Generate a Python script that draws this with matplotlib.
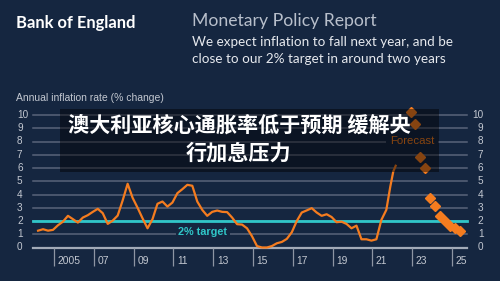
import matplotlib
matplotlib.use("Agg")
import matplotlib.pyplot as plt
from matplotlib.patches import Rectangle

# ---------------- data ----------------
cpi_years = [2004.2, 2004.45, 2004.7, 2004.95, 2005.2, 2005.45, 2005.7, 2005.95,
             2006.2, 2006.45, 2006.7, 2006.95, 2007.2, 2007.45, 2007.7, 2007.95,
             2008.2, 2008.45, 2008.7, 2008.95, 2009.2, 2009.45, 2009.7, 2009.95,
             2010.2, 2010.45, 2010.7, 2010.95, 2011.2, 2011.45, 2011.7, 2011.95,
             2012.2, 2012.45, 2012.7, 2012.95, 2013.2, 2013.45, 2013.7, 2013.95,
             2014.2, 2014.45, 2014.7, 2014.95, 2015.2, 2015.45, 2015.7, 2015.95,
             2016.2, 2016.45, 2016.7, 2016.95, 2017.2, 2017.45, 2017.7, 2017.95,
             2018.2, 2018.45, 2018.7, 2018.95, 2019.2, 2019.45, 2019.7, 2019.95,
             2020.2, 2020.45, 2020.7, 2020.95, 2021.2, 2021.45, 2021.7, 2021.9,
             2022.05, 2022.17]
cpi_values = [1.27, 1.38, 1.27, 1.33, 1.68, 1.95, 2.39, 2.14,
              1.88, 2.26, 2.44, 2.69, 2.92, 2.59, 1.78, 2.03,
              2.41, 3.55, 4.81, 3.75, 3.0, 2.2, 1.45, 2.14,
              3.3, 3.47, 3.09, 3.39, 4.1, 4.4, 4.73, 4.66,
              3.47, 2.84, 2.39, 2.69, 2.79, 2.69, 2.67, 2.26,
              1.76, 1.73, 1.45, 0.85, 0.11, 0.0, 0.0, 0.11,
              0.32, 0.42, 0.65, 1.15, 2.0, 2.64, 2.8, 2.97,
              2.64, 2.39, 2.51, 2.3, 1.91, 1.95, 1.78, 1.45,
              1.65, 0.62, 0.62, 0.52, 0.62, 2.08, 2.84, 4.6,
              5.74, 6.17]
forecast_years = [2022.92, 2023.16, 2023.41, 2023.66, 2023.9, 2024.16,
                  2024.4, 2024.65, 2024.9, 2025.16, 2025.41]
forecast_values = [10.2, 9.35, 6.8, 6.0, 3.73, 3.1, 2.41, 2.03, 1.63, 1.45, 1.25]
target = 2
y_ticks = list(range(0, 11))
x_tick_years = [2005, 2007, 2009, 2011, 2013, 2015, 2017, 2019, 2021, 2023, 2025]
x_tick_labels = ["2005", "07", "09", "11", "13", "15", "17", "19", "21", "23", "25"]

header_left = "Bank of England"
header_right = "Monetary Policy Report"
subtitle = ["We expect inflation to fall next year, and be",
            "close to our 2% target in around two years"]
axis_title = "Annual inflation rate (% change)"
overlay_title = ["澳大利亚核心通胀率低于预期 缓解央", "行加息压力"]

# ---------------- style ----------------
BG = "#152640"
ORANGE = "#f57c1f"
TEAL = "#30c6c8"
GRID = "#59647a"
TXT = "#c3c8d1"
W, H = 500, 281

fig = plt.figure(figsize=(5, 2.81), dpi=100, facecolor=BG)

def fx(px):
    return px / W

def fy(py):
    return 1 - py / H

ax_l, ax_r, ax_b, ax_t = 33, 467, 247.5, 115
ax = fig.add_axes([fx(ax_l), fy(ax_b), (ax_r - ax_l) / W, (ax_b - ax_t) / H])
ax.set_facecolor(BG)
px_per_year = 19.9
def yr(px):
    return 2005 + (px - 54) / px_per_year
ax.set_xlim(yr(ax_l), yr(ax_r))
ax.set_ylim(0, 10)
ax.axis("off")

chart_font = "Liberation Sans"

for v in y_ticks:
    if v == 0:
        ax.axhline(v, color="#a3abb8", lw=1.6, zorder=1, clip_on=False)
    else:
        ax.axhline(v, color=GRID, lw=1.1, zorder=1, clip_on=False)
    ax.text(yr(17), v, str(v), ha="left", va="center", fontsize=7.2,
            color=TXT, family=chart_font, clip_on=False)
    ax.text(yr(483.5), v, str(v), ha="right", va="center", fontsize=7.2,
            color=TXT, family=chart_font, clip_on=False)

ax.vlines(x_tick_years, -1.4, 0, color="#8d95a3", lw=0.9, clip_on=False)
for xv, lab in zip(x_tick_years, x_tick_labels):
    ax.text(xv + 0.18, -1.05, lab, ha="left", va="center", fontsize=7.4,
            color=TXT, family=chart_font, clip_on=False)

ax.axhline(target, color=TEAL, lw=2.0, zorder=2, clip_on=False)
ax.text(yr(203), 1.2, "2% target", ha="center", va="center", fontsize=7.8,
        fontweight="bold", color=TEAL, family=chart_font, zorder=3,
        bbox=dict(boxstyle="square,pad=0.25", facecolor=BG, edgecolor="none"))

ax.plot(cpi_years, cpi_values, color=ORANGE, lw=1.6, zorder=4,
        solid_joinstyle="round", clip_on=False)
ax.plot(forecast_years, forecast_values, linestyle="none", marker="D",
        markersize=4.8, color=ORANGE, zorder=4, clip_on=False)
ax.text(yr(412), 8.05, "Forecast", ha="center", va="center", fontsize=8.2,
        color=ORANGE, family=chart_font, zorder=3,
        bbox=dict(boxstyle="square,pad=0.3", facecolor=BG, edgecolor="none"))

# header
fig.text(fx(16), fy(23), header_left, ha="left", va="center", fontsize=11.9,
         fontweight="bold", color="white", family="Lato")
fig.text(fx(192), fy(21), header_right, ha="left", va="center", fontsize=12.7,
         color="#b8bfcb", family="Lato")
fig.text(fx(192), fy(42), subtitle[0], ha="left", va="center", fontsize=9.7,
         color="#e6e9ee", family="Lato")
fig.text(fx(192), fy(59), subtitle[1], ha="left", va="center", fontsize=9.7,
         color="#e6e9ee", family="Lato")
fig.text(fx(16), fy(98), axis_title, ha="left", va="center", fontsize=7.5,
         color=TXT, family=chart_font)

# overlay banner
fig.add_artist(Rectangle((fx(60), fy(172)), (439 - 60) / W, (172 - 109) / H,
                         transform=fig.transFigure, facecolor="black",
                         alpha=0.45, edgecolor="none", zorder=5))
fig.text(fx(239), fy(125.5), overlay_title[0], ha="center", va="center",
         fontsize=15.2, fontweight="bold", color="white",
         family=["Noto Sans CJK SC", "DejaVu Sans"], zorder=6)
fig.text(fx(239), fy(153), overlay_title[1], ha="center", va="center",
         fontsize=15.2, fontweight="bold", color="white",
         family=["Noto Sans CJK SC", "DejaVu Sans"], zorder=6)

fig.savefig("out.png", dpi=100, facecolor=BG)
